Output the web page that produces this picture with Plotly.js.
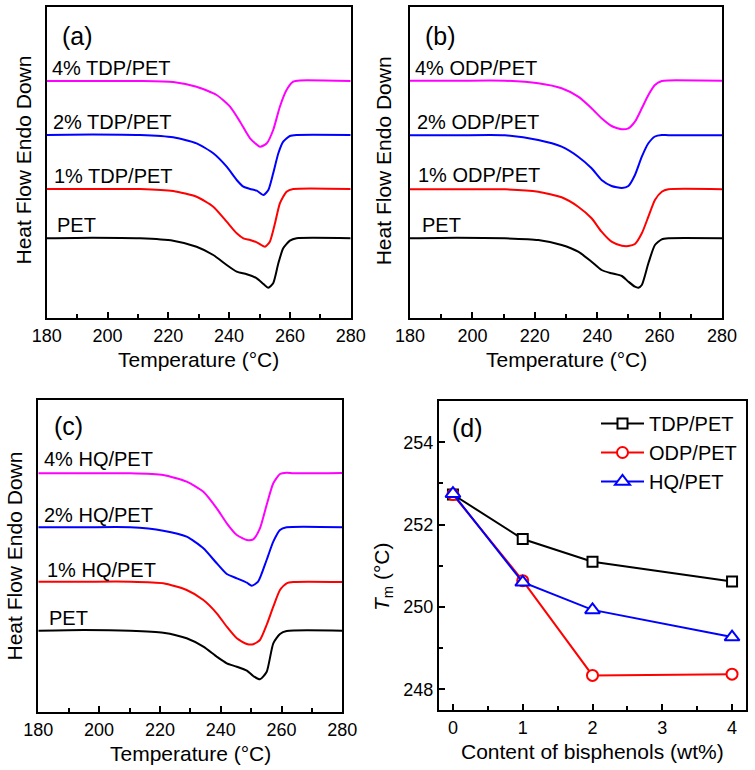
<!DOCTYPE html>
<html>
<head>
<meta charset="utf-8">
<script src="https://cdn.plot.ly/plotly-3.0.1.min.js"></script>
<style>html,body{margin:0;padding:0;background:#fff;}#chart{width:755px;height:770px;}</style>
</head>
<body>
<div id="chart"></div>
<script>
// ---------- Panel (a): TDP/PET DSC curves (arbitrary heat-flow units) ----------
const a_pet_T   = [180,195,210.7,221.6,229.3,234.8,239.2,242.5,245.8,249.1,251.3,252.9,254.5,256.2,257.8,260.0,262.2,280];
const a_pet_H   = [79.7,80.3,79.7,77.3,71.3,63,53,46.3,43.7,39.7,34,30.3,34.7,54.7,69.7,77.3,79.7,79.7];
const a_1_T     = [180,195,210.7,221.6,229.3,234.8,239.2,242.5,244.7,246.9,249.1,251.8,253.4,255.1,256.7,258.9,261.1,280];
const a_1_H     = [129,129,129,127,121.3,111.3,96.3,84.7,79.7,78,75.7,71.3,76.3,94.7,114.7,126.3,129,129];
const a_2_T     = [180,195,210.7,221.6,229.3,234.8,239.2,242.5,244.7,246.9,249.1,251.3,252.9,254.5,256.2,257.8,260.0,262.2,280];
const a_2_H     = [183,183.5,183,180.7,174.7,164.7,151.3,138,131.3,129,127.3,123,128,144.7,164.7,176.3,182,183,183];
const a_4_T     = [180,195,210.7,221.6,229.3,235.9,240.3,243.6,246.9,250.2,252.4,254.5,256.7,258.9,261.1,263.3,280];
const a_4_H     = [237,237,237,236,231.3,223,211.3,196.3,179.7,171.3,174.7,188,211.3,228,236.3,237.6,237];

// ---------- Panel (b): ODP/PET ----------
const b_T       = [180,195,210.4,221.1,228.6,233.9,238.2,241.4,244.6,247.9,250.0,252.1,254.3,256.4,258.5,260.7,262.8,280];
const b_4_H     = [237.3,237.3,237.3,234.7,229.7,221.3,209.7,199.7,192,188.7,189.7,196.3,209.7,223,233,237,237.6,237.3];
const b_2_H     = [182.7,182.7,182.7,178,171.3,161.3,149.7,138,132,130,132,143,161.3,174.7,181.5,183,182.8,182.7];
const b_1_H     = [128.7,128.7,128.7,126.3,120.7,111.3,99.7,86.3,76.3,72.3,72,74,84.7,101.3,118,126.3,128.7,128.7];
const b_pet_T   = [180,195,210.4,221.1,228.6,233.9,238.2,241.4,244.6,247.9,250.0,252.1,253.2,254.3,256.4,258.5,260.7,262.8,280];
const b_pet_H   = [79.7,80.3,79.7,78,73,66.3,56.3,48,44.7,42,36.3,31.3,30.3,33,54.7,73,78.7,79.7,79.7];

// ---------- Panel (c): HQ/PET ----------
const c_T       = [180,195,210.2,221.1,228.8,234.3,238.7,242.0,245.3,248.6,250.7,252.9,255.1,257.3,259.5,261.7,263.9,280];
const c_4_H     = [238.7,238.7,238.7,237,230.3,220.3,203.7,188.7,177,172,172.7,183.7,207,228.7,238,239.3,238.7,239];
const c_1_H     = [130.3,130.3,130.3,128.7,122,112,98.7,85.3,73.7,68,67.7,72,87,105.3,122,128.7,130,130];
const c_2_T     = [180,195,210.2,221.1,228.8,234.3,238.7,242.0,245.3,248.6,250.2,252.3,255.1,257.3,259.5,261.7,280];
const c_2_H     = [184.7,184.7,184.7,181.3,175.3,163.7,148.7,138,133.7,129.3,126.3,130.3,152,170.3,182,184.7,184.7];
const c_pet_T   = [180,195,210.2,221.1,228.8,234.3,238.7,242.0,245.3,248.6,250.7,252.9,255.1,257.3,259.5,261.7,280];
const c_pet_H   = [81.3,82,81.3,79.3,73.7,65.3,55.3,48.7,45.3,41.3,36,32.7,40,68.7,78,81,81.3];

// ---------- Panel (d): melting temperature ----------
const content   = [0,1,2,4];
const tm_TDP    = [252.73,251.65,251.10,250.62];
const tm_ODP    = [252.73,250.64,248.34,248.37];
const tm_HQ     = [252.75,250.60,249.93,249.27];

const FONT = 'Arial, "Liberation Sans", sans-serif';
const W = 755, H = 770;
const px = v => v / W;
const py = v => 1 - v / H;

function curve(x, y, color, xa, ya) {
  return {x: x, y: y, type: 'scatter', mode: 'lines', xaxis: xa, yaxis: ya,
          line: {color: color, width: 2, shape: 'spline', smoothing: 0.6},
          showlegend: false, hoverinfo: 'skip'};
}

const data = [
  curve(a_pet_T, a_pet_H, '#000000', 'x', 'y'),
  curve(a_1_T, a_1_H, '#FF0000', 'x', 'y'),
  curve(a_2_T, a_2_H, '#0000FF', 'x', 'y'),
  curve(a_4_T, a_4_H, '#FF00FF', 'x', 'y'),
  curve(b_pet_T, b_pet_H, '#000000', 'x2', 'y2'),
  curve(b_T, b_1_H, '#FF0000', 'x2', 'y2'),
  curve(b_T, b_2_H, '#0000FF', 'x2', 'y2'),
  curve(b_T, b_4_H, '#FF00FF', 'x2', 'y2'),
  curve(c_pet_T, c_pet_H, '#000000', 'x3', 'y3'),
  curve(c_T, c_1_H, '#FF0000', 'x3', 'y3'),
  curve(c_2_T, c_2_H, '#0000FF', 'x3', 'y3'),
  curve(c_T, c_4_H, '#FF00FF', 'x3', 'y3'),
  {x: content, y: tm_TDP, name: 'TDP/PET', type: 'scatter', mode: 'lines+markers', xaxis: 'x4', yaxis: 'y4',
   line: {color: '#000000', width: 2},
   marker: {symbol: 'square', size: 10, color: '#FFFFFF', line: {color: '#000000', width: 2}}},
  {x: content, y: tm_ODP, name: 'ODP/PET', type: 'scatter', mode: 'lines+markers', xaxis: 'x4', yaxis: 'y4',
   line: {color: '#FF0000', width: 2},
   marker: {symbol: 'circle', size: 11, color: '#FFFFFF', line: {color: '#FF0000', width: 2}}},
  {x: content, y: tm_HQ, name: 'HQ/PET', type: 'scatter', mode: 'lines+markers', xaxis: 'x4', yaxis: 'y4',
   line: {color: '#0000FF', width: 2},
   marker: {symbol: 'triangle-up', size: 13, color: '#FFFFFF', line: {color: '#0000FF', width: 2}}}
];

const frame = {showline: true, mirror: true, linecolor: '#000', linewidth: 2, showgrid: false, zeroline: false};
const TICKFONT = {family: FONT, size: 18, color: '#000'};

function dscX(domain, anchor) {
  return Object.assign({}, frame, {
    domain: domain, anchor: anchor, range: [180, 280], tick0: 180, dtick: 20,
    ticks: 'inside', ticklen: 6, tickwidth: 2, tickcolor: '#000',
    minor: {dtick: 10, ticks: 'inside', ticklen: 4, tickwidth: 2, tickcolor: '#000'},
    tickfont: TICKFONT
  });
}
function dscY(domain, anchor) {
  return Object.assign({}, frame, {
    domain: domain, anchor: anchor, range: [0, 311], ticks: '', showticklabels: false
  });
}

function lab(text, x, y, size, anchor, angle) {
  return {text: text, xref: 'paper', yref: 'paper', x: px(x), y: py(y), showarrow: false,
          xanchor: anchor || 'left', yanchor: 'middle', textangle: angle || 0,
          font: {family: FONT, size: size, color: '#000'}};
}

const TEMP = 'Temperature (°C)', HF = 'Heat Flow Endo Down';

const layout = {
  width: W, height: H,
  margin: {l: 0, r: 0, t: 0, b: 0},
  paper_bgcolor: '#fff', plot_bgcolor: '#fff',
  font: {family: FONT, color: '#000'},
  xaxis: dscX([px(46.7), px(350.7)], 'y'),
  yaxis: dscY([py(318), py(7)], 'x'),
  xaxis2: dscX([px(410), px(722)], 'y2'),
  yaxis2: dscY([py(318), py(7)], 'x2'),
  xaxis3: dscX([px(38.3), px(342.3)], 'y3'),
  yaxis3: Object.assign(dscY([py(712), py(400)], 'x3'), {range: [0, 312]}),
  xaxis4: Object.assign({}, frame, {
    domain: [px(439), px(746)], anchor: 'y4', range: [-0.2, 4.2], tick0: 0, dtick: 1,
    ticks: 'inside', ticklen: 6, tickwidth: 2, tickcolor: '#000',
    minor: {dtick: 0.5, ticks: 'inside', ticklen: 4, tickwidth: 2, tickcolor: '#000'},
    tickfont: TICKFONT
  }),
  yaxis4: Object.assign({}, frame, {
    domain: [py(710), py(401)], anchor: 'x4', range: [247.5, 255], tick0: 248, dtick: 2,
    ticks: 'inside', ticklen: 6, tickwidth: 2, tickcolor: '#000',
    minor: {dtick: 1, ticks: 'inside', ticklen: 4, tickwidth: 2, tickcolor: '#000'},
    tickfont: TICKFONT
  }),
  legend: {x: px(596), y: py(404), xanchor: 'left', yanchor: 'top', bgcolor: 'rgba(0,0,0,0)',
           borderwidth: 0, font: {family: FONT, size: 20, color: '#000'}, itemwidth: 43, tracegroupgap: 0},
  annotations: [
    // axis titles
    lab(TEMP, 198.7, 360, 21, 'center'),
    lab(TEMP, 566, 360, 21, 'center'),
    lab(TEMP, 190.3, 753, 21, 'center'),
    lab('Content of bisphenols (wt%)', 592.5, 751.5, 21, 'center'),
    lab(HF, 22.5, 160, 21, 'center', -90),
    lab(HF, 383.3, 161, 21, 'center', -90),
    lab(HF, 13.5, 556, 21, 'center', -90),
    lab('<i>T</i><sub>m</sub> (°C)', 383, 577, 21, 'center', -90),
    // panel letters and curve labels
    lab('(a)', 77, 36, 25, 'center'),
    lab('4% TDP/PET', 50, 68.3, 20), lab('2% TDP/PET', 51, 122, 20),
    lab('1% TDP/PET', 52, 176, 20), lab('PET', 55, 225, 20),
    lab('(b)', 440.5, 36, 25, 'center'),
    lab('4% ODP/PET', 413, 68.5, 20), lab('2% ODP/PET', 415, 122.5, 20),
    lab('1% ODP/PET', 416, 175.5, 20), lab('PET', 420, 225, 20),
    lab('(c)', 68, 425.5, 25, 'center'),
    lab('4% HQ/PET', 42, 459.5, 20), lab('2% HQ/PET', 42, 514.5, 20),
    lab('1% HQ/PET', 45, 569.5, 20), lab('PET', 47, 617.5, 20),
    lab('(d)', 467.5, 427.5, 25, 'center')
  ]
};

Plotly.newPlot('chart', data, layout, {displayModeBar: false, staticPlot: true});
</script>
</body>
</html>
